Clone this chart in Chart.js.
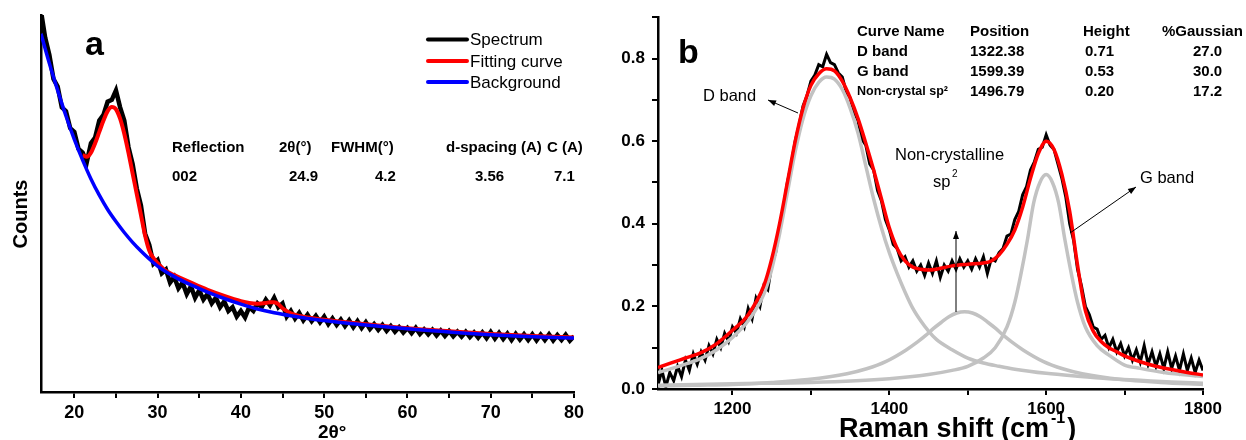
<!DOCTYPE html>
<html><head><meta charset="utf-8">
<script src="https://cdn.jsdelivr.net/npm/chart.js@4.4.1/dist/chart.umd.min.js"></script>
<style>
html,body{margin:0;padding:0;background:#fff;}
#wrap{position:relative;width:1246px;height:440px;overflow:hidden;background:#fff;}
#pa{position:absolute;left:0;top:0;}
#pb{position:absolute;left:600px;top:0;}
</style></head><body>
<div id="wrap"><canvas id="pa" width="600" height="440"></canvas><canvas id="pb" width="646" height="440"></canvas></div>
<script>
// ---------------- Panel a : XRD ----------------
const xrdSpectrumStart = 16, xrdSpectrumStep = 0.5;
const xrdSpectrum = [
  101,94,89.5,83,81,75.5,74.5,70,69,64.5,
  63.5,61,66,67.5,72,73.5,77,77.5,80,75.5,
  72,65,60.5,54,49.5,42,39,34,35,31.5,
  32.5,29,30.5,27.5,29,26,28,25,27,24.5,
  26,23.5,25,22.5,24,21.5,22.5,20,21.5,19.8,
  22.5,21.5,23.5,22.5,24.5,23,25,22.5,23.5,20,
  21.5,19.5,21,19,20.5,18.8,20.2,18.5,20,18,
  19.5,17.8,19.2,17.5,19,17.2,18.8,17,18.5,16.7,
  18,16.5,17.8,16.2,17.5,16,17.2,15.8,17,15.6,
  17,15.4,16.6,15.3,16.5,15,16.3,14.9,16.2,14.8,
  16,14.7,16,14.6,15.8,14.4,15.8,14.3,15.9,14.2,
  15.7,14.1,15.5,13.8,15.4,13.9,15.3,13.8,15.3,13.7,
  15.2,13.8,15.3,13.7,15.1,13.8,15.2,13.6,14.8
];
const xrdFitX = [21,21.5,22,22.5,23,23.5,24,24.5,25,25.5,26,26.5,27,27.5,28,28.5,29,29.5,30,31,32,34,36,38,40,41,42,43,43.5,44,44.5,45,46,47,48,50,55,60,65,70,75,80];
const xrdFitY = [62.8,62.4,63.5,66,69,72,74.5,75.6,75,72.5,68.5,63.5,58,52.5,47,41.5,37.5,35.5,34.2,32.1,31,29,27.1,25.5,24.1,23.6,23.4,23.6,23.8,23.8,23.3,22.2,20.9,20.2,19.8,19.2,18,16.9,16.1,15.4,14.85,14.45];
const xrdBackgroundX = [16,17,18,19,20,21,22,23,24,25,26,27,28,29,30,32,34,36,38,40,42,44,46,48,50,52,55,58,61,64,67,70,73,76,80];
const xrdBackgroundY = [95,87.2,80,73.2,67,61.5,56.5,52.2,48.4,45.2,42.3,39.7,37.4,35.3,33.4,30.6,28.4,26.5,24.8,23.3,22.0,21.0,20.2,19.5,18.95,18.45,17.8,17.2,16.6,16.1,15.6,15.2,14.85,14.6,14.3];
const xrdTicksX = [20,25,30,35,40,45,50,55,60,65,70,75,80];
const xrdLegend = ['Spectrum','Fitting curve','Background'];
const xrdTableHeader = ['Reflection','2\u03b8(\u00b0)','FWHM(\u00b0)','d-spacing (A)','C (A)'];
const xrdTableRow = ['002','24.9','4.2','3.56','7.1'];

// ---------------- Panel b : Raman ----------------
const ramanSpectrumStart = 1105, ramanSpectrumStep = 5;
const ramanSpectrum = [
  0.01,0.045,0.005,0.04,0.02,0.055,0.03,0.07,0.045,0.085,
  0.06,0.09,0.07,0.105,0.085,0.12,0.10,0.135,0.115,0.15,
  0.135,0.17,0.15,0.195,0.17,0.22,0.2,0.25,0.24,0.3,
  0.33,0.39,0.44,0.5,0.545,0.6,0.64,0.685,0.71,0.745,
  0.76,0.785,0.78,0.81,0.79,0.785,0.765,0.755,0.72,0.705,
  0.67,0.65,0.605,0.59,0.545,0.53,0.48,0.455,0.41,0.385,
  0.35,0.34,0.31,0.32,0.295,0.31,0.285,0.3,0.275,0.305,
  0.28,0.31,0.27,0.3,0.285,0.31,0.29,0.315,0.295,0.31,
  0.29,0.315,0.295,0.32,0.28,0.315,0.31,0.33,0.34,0.37,
  0.375,0.41,0.43,0.47,0.49,0.53,0.55,0.58,0.585,0.615,
  0.59,0.58,0.545,0.51,0.465,0.4,0.36,0.29,0.25,0.2,
  0.18,0.15,0.145,0.12,0.13,0.1,0.12,0.09,0.11,0.08,
  0.1,0.07,0.095,0.065,0.105,0.06,0.09,0.055,0.085,0.05,
  0.09,0.05,0.08,0.045,0.085,0.045,0.075,0.04,0.07,0.045
];
const ramanFitX = [1105,1120,1140,1160,1180,1200,1220,1240,1250,1260,1270,1280,1290,1300,1310,1320,1330,1340,1350,1360,1370,1380,1390,1400,1410,1420,1430,1440,1450,1460,1480,1500,1520,1530,1540,1550,1560,1570,1580,1590,1600,1610,1620,1630,1640,1650,1660,1670,1680,1690,1700,1720,1740,1760,1780,1800];
const ramanFitY = [0.052,0.062,0.075,0.088,0.11,0.142,0.18,0.25,0.315,0.40,0.50,0.60,0.68,0.735,0.763,0.775,0.77,0.745,0.705,0.655,0.595,0.53,0.46,0.39,0.34,0.31,0.295,0.29,0.288,0.29,0.298,0.302,0.305,0.31,0.325,0.35,0.385,0.44,0.51,0.57,0.60,0.58,0.52,0.43,0.30,0.19,0.14,0.115,0.10,0.09,0.08,0.066,0.055,0.047,0.04,0.034];
const ramanDBandX = [1105,1120,1140,1160,1180,1200,1220,1240,1250,1260,1270,1280,1290,1300,1310,1320,1330,1340,1350,1360,1370,1380,1390,1400,1410,1420,1430,1440,1450,1460,1480,1500,1520,1540,1560,1600,1640,1680,1720,1760,1800];
const ramanDBandY = [0.04,0.048,0.06,0.074,0.095,0.125,0.165,0.23,0.29,0.375,0.475,0.575,0.655,0.71,0.742,0.755,0.75,0.725,0.68,0.62,0.54,0.46,0.39,0.33,0.28,0.235,0.195,0.165,0.14,0.12,0.095,0.075,0.063,0.055,0.048,0.038,0.031,0.025,0.021,0.017,0.014];
const ramanNonCrystX = [1105,1150,1200,1250,1296,1346,1371,1396,1421,1436,1446,1456,1466,1476,1486,1496,1506,1516,1526,1536,1546,1556,1571,1596,1621,1646,1696,1746,1800];
const ramanNonCrystY = [0.007,0.009,0.011,0.016,0.023,0.037,0.049,0.067,0.094,0.114,0.129,0.146,0.161,0.175,0.184,0.187,0.184,0.175,0.161,0.146,0.129,0.114,0.094,0.067,0.049,0.037,0.023,0.016,0.011];
const ramanGBandX = [1105,1200,1300,1400,1450,1480,1500,1520,1535,1550,1560,1568,1576,1584,1592,1600,1608,1616,1624,1632,1640,1650,1665,1680,1700,1720,1750,1800];
const ramanGBandY = [0.009,0.013,0.016,0.025,0.035,0.045,0.055,0.075,0.10,0.15,0.21,0.28,0.36,0.45,0.50,0.519,0.50,0.45,0.36,0.28,0.21,0.15,0.105,0.082,0.058,0.05,0.04,0.03];
const ramanTicksX = [1200,1300,1400,1500,1600,1700,1800];
const ramanTicksY = [0,0.1,0.2,0.3,0.4,0.5,0.6,0.7,0.8,0.9];
const ramanTableHeader = ['Curve Name','Position','Height','%Gaussian'];
const ramanTableRows = [
  ['D band','1322.38','0.71','27.0'],
  ['G band','1599.39','0.53','30.0'],
  ['Non-crystal sp\u00b2','1496.79','0.20','17.2']
];

// ---------------- helpers ----------------
const FONT = "'Liberation Sans', Arial, Helvetica, sans-serif";
Chart.defaults.font.family = FONT;
Chart.defaults.color = '#000';

function pairPoints(xs, ys){ return xs.map((x,i)=>({x:x, y:ys[i]})); }
function gridPoints(start, step, ys){ return ys.map((y,i)=>({x: Math.round((start + i*step)*1000)/1000, y:y})); }

function text(ctx, s, x, y, size, weight, align, baseline){
  ctx.save();
  ctx.font = (weight||'normal') + ' ' + size + 'px ' + FONT;
  ctx.fillStyle = '#000';
  ctx.textAlign = align || 'left';
  ctx.textBaseline = baseline || 'middle';
  ctx.fillText(s, x, y);
  const w = ctx.measureText(s).width;
  ctx.restore();
  return w;
}
function arrow(ctx, x1, y1, x2, y2){
  ctx.save();
  ctx.strokeStyle = '#000'; ctx.fillStyle = '#000'; ctx.lineWidth = 1;
  ctx.beginPath(); ctx.moveTo(x1, y1); ctx.lineTo(x2, y2); ctx.stroke();
  const a = Math.atan2(y2 - y1, x2 - x1), L = 8, W = 3;
  ctx.beginPath();
  ctx.moveTo(x2, y2);
  ctx.lineTo(x2 - L*Math.cos(a) + W*Math.sin(a), y2 - L*Math.sin(a) - W*Math.cos(a));
  ctx.lineTo(x2 - L*Math.cos(a) - W*Math.sin(a), y2 - L*Math.sin(a) + W*Math.cos(a));
  ctx.closePath(); ctx.fill();
  ctx.restore();
}

const baseOpts = {
  responsive:false, animation:false, devicePixelRatio:1, events:[],
  plugins:{ legend:{display:false}, tooltip:{enabled:false} }
};

// ---------------- Chart a ----------------
const annA = {
  id:'annA',
  afterDraw(chart){
    const ctx = chart.ctx;
    text(ctx, 'a', 85, 55, 34, 'bold', 'left', 'alphabetic');
    const legColors = ['#000000','#ff0000','#0000ff'];
    const legY = [39.5, 61, 82];
    xrdLegend.forEach((s,i)=>{
      ctx.save(); ctx.strokeStyle = legColors[i]; ctx.lineWidth = 4; ctx.lineCap = 'round';
      ctx.beginPath(); ctx.moveTo(428, legY[i]); ctx.lineTo(467, legY[i]); ctx.stroke(); ctx.restore();
      text(ctx, s, 470, legY[i]+1, 17, 'normal');
    });
    const hx = [172, 279, 331, 446, 547];
    const rx = [172, 289, 375, 475, 554];
    xrdTableHeader.forEach((s,i)=>text(ctx, s, hx[i], 148, 15, 'bold'));
    xrdTableRow.forEach((s,i)=>text(ctx, s, rx[i], 177, 15, 'bold'));
    ctx.save(); ctx.translate(21, 214); ctx.rotate(-Math.PI/2);
    text(ctx, 'Counts', 0, 0, 20, 'bold', 'center', 'middle');
    ctx.restore();
    text(ctx, '2\u03b8\u00b0', 318, 438, 19, 'bold', 'left', 'alphabetic');
  }
};

new Chart(document.getElementById('pa'), {
  type:'line',
  data:{ datasets:[
    { label:'Background', data:pairPoints(xrdBackgroundX, xrdBackgroundY), borderColor:'#0000ff', borderWidth:3.5, pointRadius:0, cubicInterpolationMode:'monotone', order:0 },
    { label:'Fitting curve', data:pairPoints(xrdFitX, xrdFitY), borderColor:'#ff0000', borderWidth:4, pointRadius:0, cubicInterpolationMode:'monotone', order:1 },
    { label:'Spectrum', data:gridPoints(xrdSpectrumStart, xrdSpectrumStep, xrdSpectrum), borderColor:'#000000', borderWidth:4.5, pointRadius:0, tension:0, order:2 }
  ]},
  options:Object.assign({}, baseOpts, {
    layout:{ padding:{ left:0, top:15, right:26, bottom:0 } },
    scales:{
      x:{ type:'linear', min:16, max:80,
        afterBuildTicks:s=>{ s.ticks = xrdTicksX.map(v=>({value:v})); },
        afterFit:s=>{ s.height = 48; },
        ticks:{ autoSkip:false, maxRotation:0, padding:4, color:'#000', font:{size:18, weight:'bold'}, callback:v=>(v%10===0?String(v):'') },
        grid:{ display:true, drawOnChartArea:false, drawTicks:true, tickLength:6, color:'#000', lineWidth:2 },
        border:{ display:true, color:'#000', width:2.5 }
      },
      y:{ type:'linear', min:0, max:100,
        afterFit:s=>{ s.width = 41; },
        ticks:{ display:false },
        grid:{ display:true, drawOnChartArea:false, drawTicks:false, color:'#000' },
        border:{ display:true, color:'#000', width:2.5 }
      }
    }
  }),
  plugins:[annA]
});

// ---------------- Chart b ----------------
const annB = {
  id:'annB',
  afterDraw(chart){
    const ctx = chart.ctx;
    text(ctx, 'b', 78, 63, 34, 'bold', 'left', 'alphabetic');
    const hx = [257, 370, 483, 562];
    const vx = [257, 370, 485, 593];
    ramanTableHeader.forEach((s,i)=>text(ctx, s, hx[i], 32, 15, 'bold'));
    ramanTableRows.forEach((row,r)=>{
      row.forEach((s,i)=>{
        const small = (r===2 && i===0);
        text(ctx, s, vx[i], 52 + r*20, small?12.5:15, 'bold');
      });
    });
    text(ctx, 'D band', 103, 96, 16.5, 'normal');
    arrow(ctx, 198, 113, 168, 100);
    text(ctx, 'Non-crystalline', 295, 160, 16.5, 'normal', 'left', 'alphabetic');
    text(ctx, 'sp', 333, 187, 16.5, 'normal', 'left', 'alphabetic');
    text(ctx, '2', 352, 177, 10, 'normal', 'left', 'alphabetic');
    arrow(ctx, 356, 312, 356, 231);
    text(ctx, 'G band', 540, 183, 16.5, 'normal', 'left', 'alphabetic');
    arrow(ctx, 470, 233, 536, 187);
    const w1 = text(ctx, 'Raman shift (cm', 239, 437, 27, 'bold', 'left', 'alphabetic');
    const w2 = text(ctx, '-1', 239 + w1 + 2, 423, 16, 'bold', 'left', 'alphabetic');
    text(ctx, ')', 239 + w1 + w2 + 4, 437, 27, 'bold', 'left', 'alphabetic');
  }
};

const grayStyle = { borderColor:'#c2c2c2', borderWidth:3.5, pointRadius:0, cubicInterpolationMode:'monotone' };
new Chart(document.getElementById('pb'), {
  type:'line',
  data:{ datasets:[
    { label:'Fit', data:pairPoints(ramanFitX, ramanFitY), borderColor:'#ff0000', borderWidth:3.5, pointRadius:0, cubicInterpolationMode:'monotone', order:0 },
    Object.assign({ label:'D band', data:pairPoints(ramanDBandX, ramanDBandY), order:1 }, grayStyle),
    Object.assign({ label:'G band', data:pairPoints(ramanGBandX, ramanGBandY), order:1 }, grayStyle),
    Object.assign({ label:'Non-crystalline sp2', data:pairPoints(ramanNonCrystX, ramanNonCrystY), order:1 }, grayStyle),
    { label:'Spectrum', data:gridPoints(ramanSpectrumStart, ramanSpectrumStep, ramanSpectrum), borderColor:'#000000', borderWidth:3, pointRadius:0, tension:0, order:3 }
  ]},
  options:Object.assign({}, baseOpts, {
    layout:{ padding:{ left:0, top:14, right:43, bottom:0 } },
    scales:{
      x:{ type:'linear', min:1105, max:1800,
        afterBuildTicks:s=>{ s.ticks = ramanTicksX.map(v=>({value:v})); },
        afterFit:s=>{ s.height = 51; },
        ticks:{ autoSkip:false, maxRotation:0, padding:4, color:'#000', font:{size:17, weight:'bold'}, callback:v=>(v%200===0?String(v):'') },
        grid:{ display:true, drawOnChartArea:false, drawTicks:true, tickLength:6, color:'#000', lineWidth:2 },
        border:{ display:true, color:'#000', width:2.5 }
      },
      y:{ type:'linear', min:0, max:0.9,
        afterBuildTicks:s=>{ s.ticks = ramanTicksY.map(v=>({value:v})); },
        afterFit:s=>{ s.width = 58; },
        ticks:{ autoSkip:false, padding:7, color:'#000', font:{size:17, weight:'bold'}, callback:(v,i)=>((i%2===0 && i<9)?v.toFixed(1):'') },
        grid:{ display:true, drawOnChartArea:false, drawTicks:true, tickLength:6, color:'#000', lineWidth:2 },
        border:{ display:true, color:'#000', width:2.5 }
      }
    }
  }),
  plugins:[annB]
});
</script></body></html>
